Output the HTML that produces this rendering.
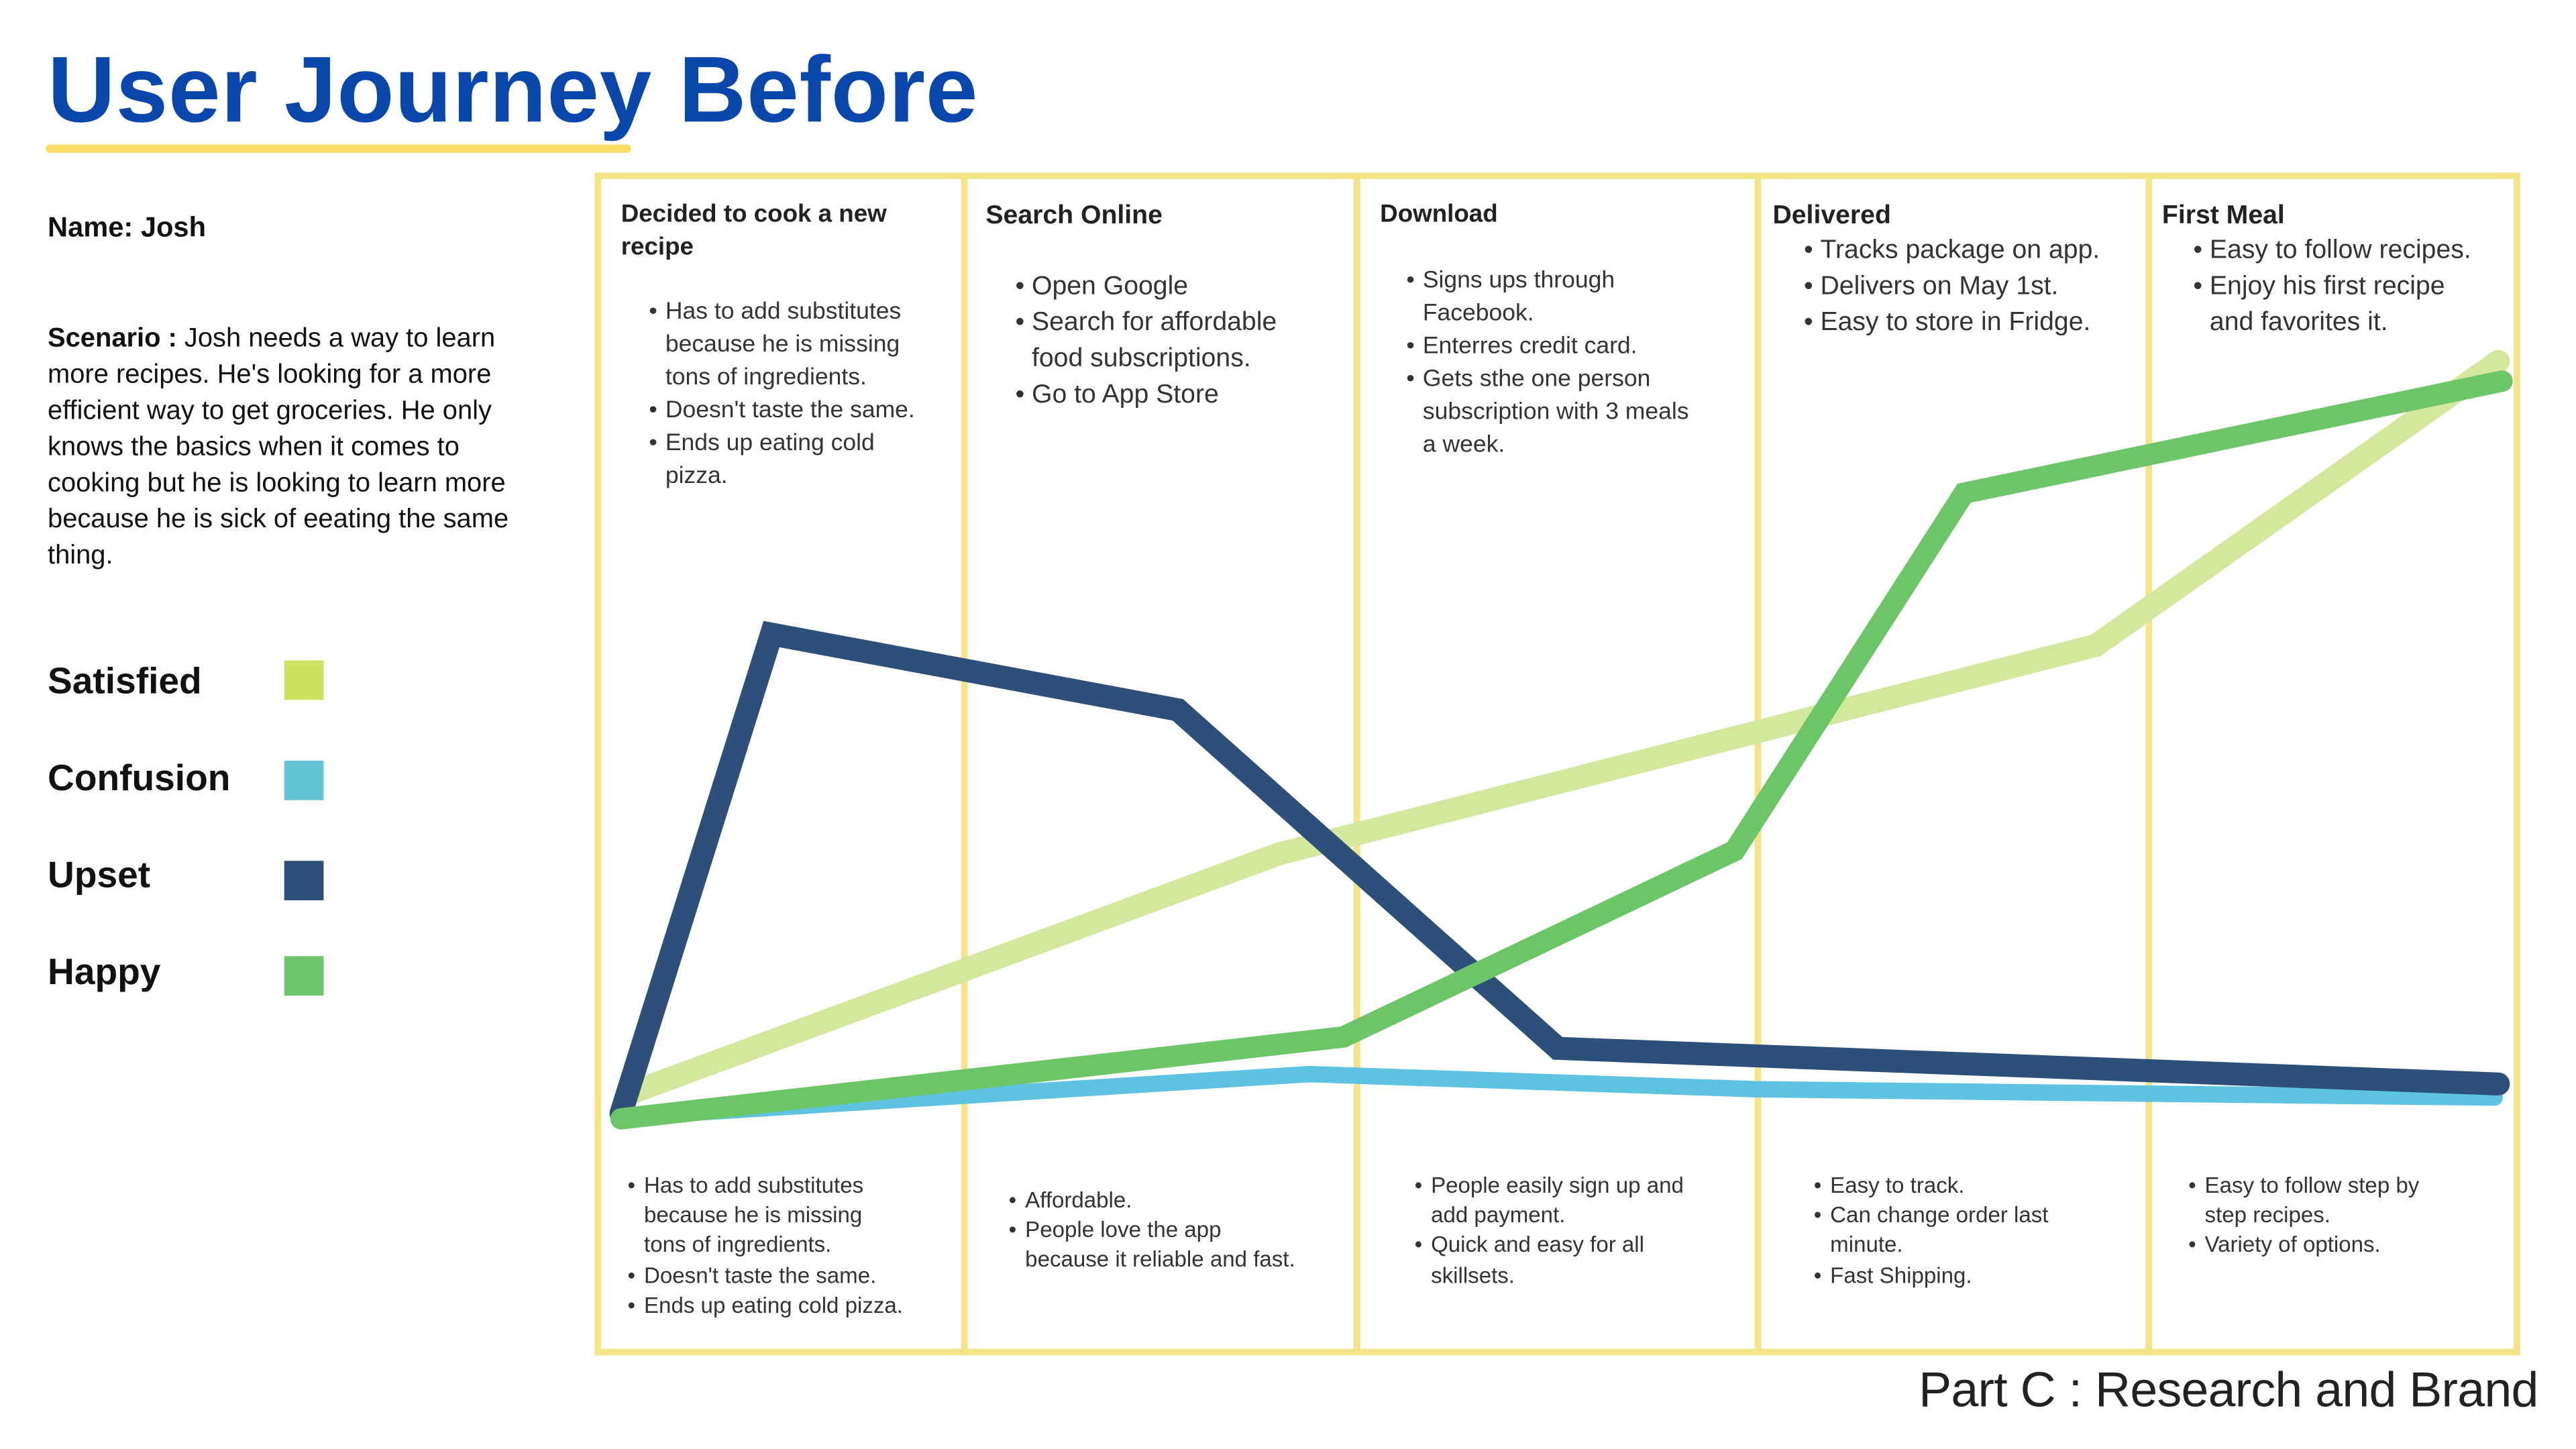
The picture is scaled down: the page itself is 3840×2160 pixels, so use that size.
<!DOCTYPE html>
<html><head><meta charset="utf-8">
<style>
html,body{margin:0;padding:0;background:#fff;}
body{width:3840px;height:2160px;overflow:hidden;position:relative;}
#stage{position:absolute;left:0;top:0;width:1568px;height:882px;transform:scale(2.449);transform-origin:0 0;font-family:"Liberation Sans",sans-serif;color:#222;}
.abs{position:absolute;}
.hdr{position:absolute;font-weight:bold;font-size:15px;line-height:20px;color:#222;white-space:nowrap;}
ul{position:absolute;margin:0;padding:0;list-style:none;color:#333;white-space:nowrap;}
li{position:relative;}
li::before{content:"\2022";position:absolute;left:-10px;}
.t1{font-size:14.5px;line-height:20px;}
.t2{font-size:16px;line-height:22px;}
.t3{font-size:13.5px;line-height:18.2px;}
.leg{position:absolute;left:29px;font-weight:bold;font-size:22.5px;color:#111;}
.sw{position:absolute;left:173px;width:24px;height:24px;}
</style></head>
<body>
<div id="stage">
  <div class="abs" style="left:29px;top:22px;font-size:57px;font-weight:bold;color:#0a47ad;letter-spacing:0.3px;white-space:nowrap;">User Journey Before</div>
  <div class="abs" style="left:28px;top:88px;width:356px;height:5px;background:#fbdc63;border-radius:2px;"></div>

  <div class="abs" style="left:29px;top:129px;font-size:17px;font-weight:bold;color:#111;">Name: Josh</div>
  <div class="abs" style="left:29px;top:195px;font-size:16.3px;line-height:22px;color:#111;white-space:nowrap;"><b>Scenario :</b> Josh needs a way to learn<br>more recipes. He's looking for a more<br>efficient way to get groceries. He only<br>knows the basics when it comes to<br>cooking but he is looking to learn more<br>because he is sick of eeating the same<br>thing.</div>

  <div class="leg" style="top:402px;">Satisfied</div>
  <div class="sw" style="top:402px;background:#cbe35f;"></div>
  <div class="leg" style="top:461px;">Confusion</div>
  <div class="sw" style="top:463px;background:#63c4d6;"></div>
  <div class="leg" style="top:520px;">Upset</div>
  <div class="sw" style="top:524px;background:#2c5079;"></div>
  <div class="leg" style="top:579px;">Happy</div>
  <div class="sw" style="top:582px;background:#6cc569;"></div>

  <svg class="abs" style="left:0;top:0;" width="1568" height="882">
    <g stroke="#f2e487" stroke-width="4" fill="none">
      <rect x="364" y="107" width="1168" height="716"/>
      <line x1="587" y1="107" x2="587" y2="823"/>
      <line x1="826" y1="107" x2="826" y2="823"/>
      <line x1="1070" y1="107" x2="1070" y2="823"/>
      <line x1="1308" y1="107" x2="1308" y2="823"/>
    </g>
    <g id="lines"></g>
  </svg>

  <div class="hdr" style="left:378px;top:121px;">Decided to cook a new<br>recipe</div>
  <ul class="t1" style="left:405px;top:180px;"><li>Has to add substitutes<br>because he is missing<br>tons of ingredients.</li><li>Doesn't taste the same.</li><li>Ends up eating cold<br>pizza.</li></ul>

  <div class="hdr" style="left:600px;top:122px;font-size:16px;">Search Online</div>
  <ul class="t2" style="left:628px;top:164px;"><li>Open Google</li><li>Search for affordable<br>food subscriptions.</li><li>Go to App Store</li></ul>

  <div class="hdr" style="left:840px;top:121px;">Download</div>
  <ul class="t1" style="left:866px;top:161px;"><li>Signs ups through<br>Facebook.</li><li>Enterres credit card.</li><li>Gets sthe one person<br>subscription with 3 meals<br>a week.</li></ul>

  <div class="hdr" style="left:1079px;top:122px;font-size:16px;">Delivered</div>
  <ul class="t2" style="left:1108px;top:142px;"><li>Tracks package on app.</li><li>Delivers on May 1st.</li><li>Easy to store in Fridge.</li></ul>

  <div class="hdr" style="left:1316px;top:122px;font-size:16px;">First Meal</div>
  <ul class="t2" style="left:1345px;top:142px;"><li>Easy to follow recipes.</li><li>Enjoy his first recipe<br>and favorites it.</li></ul>

  <ul class="t3" style="left:392px;top:713px;"><li>Has to add substitutes<br>because he is missing<br>tons of ingredients.</li><li>Doesn't taste the same.</li><li>Ends up eating cold pizza.</li></ul>
  <ul class="t3" style="left:624px;top:722px;"><li>Affordable.</li><li>People love the app<br>because it reliable and fast.</li></ul>
  <ul class="t3" style="left:871px;top:713px;"><li>People easily sign up and<br>add payment.</li><li>Quick and easy for all<br>skillsets.</li></ul>
  <ul class="t3" style="left:1114px;top:713px;"><li>Easy to track.</li><li>Can change order last<br>minute.</li><li>Fast Shipping.</li></ul>
  <ul class="t3" style="left:1342px;top:713px;"><li>Easy to follow step by<br>step recipes.</li><li>Variety of options.</li></ul>

  <div class="abs" style="right:23px;top:830px;font-size:30px;color:#222;font-weight:300;letter-spacing:-0.3px;white-space:nowrap;">Part C : Research and Brand</div>
</div>
<script>
// x: journey progress (stage units 0-5), y: emotion intensity (0-100)
const satisfiedX = [0.02, 1.75, 3.92, 4.99];
const satisfiedY = [3.3, 35, 62.5, 100];
const confusionX = [0, 1.83, 3.02, 4.98];
const confusionY = [0.2, 5.9, 3.9, 2.8];
const upsetX = [0, 0.40, 1.48, 2.49, 4.99];
const upsetY = [0.7, 64, 54, 9.3, 4.6];
const happyX = [0, 1.92, 2.96, 3.57, 5];
const happyY = [0, 10.8, 35.4, 82.6, 97.4];

function xScale(v){ return 378 + v * 229; }
function yScale(v){ return 681 - v * 4.61; }

const g = document.getElementById('lines');
function drawLine(xs, ys, color, w, name){
  const p = document.createElementNS('http://www.w3.org/2000/svg','polyline');
  p.setAttribute('points', xs.map((x,i)=>xScale(x)+','+yScale(ys[i])).join(' '));
  p.setAttribute('fill','none');
  p.setAttribute('stroke',color);
  p.setAttribute('stroke-width',w);
  p.setAttribute('stroke-linecap','round');
  p.setAttribute('stroke-linejoin','miter');
  
  
  g.appendChild(p);
}
drawLine(satisfiedX, satisfiedY, '#d3e89c', 14, 'satisfied-line');
drawLine(confusionX, confusionY, '#5ec3e0', 10, 'confusion-line');
drawLine(upsetX, upsetY, '#2c5079', 14, 'upset-line');
drawLine(happyX, happyY, '#6cc667', 13, 'happy-line');
</script>
</body></html>
